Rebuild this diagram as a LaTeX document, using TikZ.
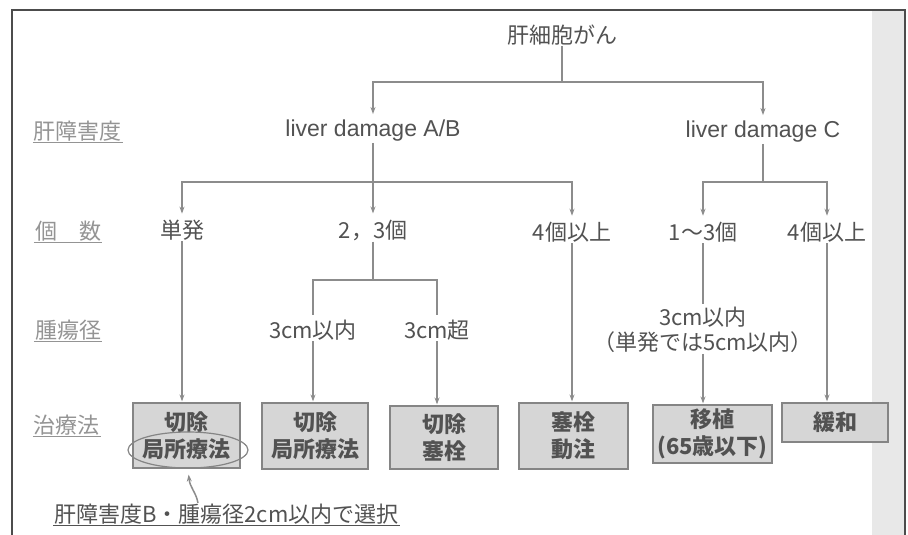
\documentclass[tikz,border=0pt]{standalone}
\usepackage{fontspec}
\setmainfont{Noto Sans CJK JP}
\newfontfamily\latinf{Liberation Sans}
\usetikzlibrary{arrows.meta,shapes.geometric}
\definecolor{lncol}{gray}{0.55}
\definecolor{txcol}{gray}{0.32}
\definecolor{lbcol}{gray}{0.58}
\definecolor{bxcol}{gray}{0.84}
\definecolor{bdcol}{gray}{0.52}
\begin{document}
\begin{tikzpicture}[x=1pt,y=-1pt,
  t/.style={font=\fontsize{22}{25}\selectfont, text=txcol, inner sep=1pt, align=center},
  en/.style={font=\latinf\fontsize{23}{27}\selectfont, text=txcol, inner sep=1pt},
  rl/.style={font=\fontsize{22}{25}\selectfont, text=lbcol, inner sep=1pt},
  bxs/.style={draw=bdcol, line width=1.2pt, fill=bxcol, font=\bfseries\fontsize{22}{27}\selectfont, text=txcol, align=center, inner sep=0pt},
  ln/.style={draw=lncol, line width=1.5pt},
  arr/.style={ln, -{Stealth[length=7pt,width=5pt]}, shorten >=5pt},
  ul/.style={draw=lbcol, line width=0.8pt},
]
\useasboundingbox (0,0) rectangle (908,535);
\fill[white] (0,0) rectangle (908,535);
\fill[black!9] (872,11) rectangle (905,535);
\draw[black!70, line width=2pt] (12,535) -- (12,10) -- (905,10) -- (905,535);

% row labels
\node[rl] (r1) at (78,131) {肝障害度};
\node[rl] (r2) at (68,231) {個\hspace{1em}数};
\node[rl] (r3) at (68,330) {腫瘍径};
\node[rl] (r4) at (67,425) {治療法};
\foreach \r in {r1,r2,r3,r4}{\draw[ul] (\r.south west) -- (\r.south east);}

% level 0/1
\node[t] (root) at (562,35) {肝細胞がん};
\node[en] (ab) at (373,131) {liver damage A/B};
\node[en] (dc) at (763,132) {liver damage C};
\coordinate (j1) at (562,82);
\draw[ln] (root.south) -- (j1);
\draw[arr] (j1) -| (ab.north);
\draw[arr] (j1) -| (dc.north);

% level 2
\node[t] (single) at (182,230) {単発};
\node[t] (n23) at (373,230) {2，3個};
\node[t] (n4a) at (572,232) {4個以上};
\node[t] (n13) at (703,232) {1～3個};
\node[t] (n4c) at (827,232) {4個以上};
\coordinate (j2) at (373,182);
\coordinate (j3) at (763,182);
\draw[ln] (ab.south) -- (j2);
\draw[arr] (j2) -| (single.north);
\draw[arr] (j2) -- (n23.north);
\draw[arr] (j2) -| (n4a.north);
\draw[ln] (dc.south) -- (j3);
\draw[arr] (j3) -| (n13.north);
\draw[arr] (j3) -| (n4c.north);

% level 3
\node[t] (s3a) at (313,330) {3cm以内};
\node[t] (s3b) at (437,330) {3cm超};
\node[t] (c3) at (703,330) {3cm以内\\（単発では5cm以内）};
\coordinate (j4) at (373,280);
\draw[ln] (n23.south) -- (j4);
\draw[ln, shorten >=4pt] (j4) -| (s3a.north);
\draw[ln, shorten >=4pt] (j4) -| (s3b.north);
\draw[ln, shorten >=2pt] (n13.south) -- (c3.north);

% treatment boxes
\node[bxs, minimum width=107, minimum height=65] (b1) at (186.5,435.5) {切除\\局所療法};
\node[bxs, minimum width=106, minimum height=66] (b2) at (315,436) {切除\\局所療法};
\node[bxs, minimum width=108, minimum height=63] (b3) at (444,437.5) {切除\\塞栓};
\node[bxs, minimum width=109, minimum height=66] (b4) at (573.5,436) {塞栓\\動注};
\node[bxs, minimum width=119, minimum height=58] (b5) at (712.5,434) {移植\\(65歳以下)};
\node[bxs, minimum width=106, minimum height=39] (b6) at (835,422.5) {緩和};
\draw[arr, shorten >=1pt] (single.south) -- (single.south |- b1.north);
\draw[arr, shorten >=1pt] (s3a.south) -- (s3a.south |- b2.north);
\draw[arr, shorten >=1pt] (s3b.south) -- (s3b.south |- b3.north);
\draw[arr, shorten >=1pt] (n4a.south) -- (n4a.south |- b4.north);
\draw[arr, shorten >=1pt] (c3.south) -- (c3.south |- b5.north);
\draw[arr, shorten >=1pt] (n4c.south) -- (n4c.south |- b6.north);

% ellipse and note
\node[ellipse, draw=bdcol, line width=1.2pt, minimum width=120, minimum height=36, inner sep=0pt] (el) at (188,450) {};
\node[t, anchor=west] (note) at (53,514) {肝障害度B・腫瘍径2cm以内で選択};
\draw[draw=txcol, line width=1pt] (note.south west) -- (note.south east);
\coordinate (na) at (198,503);
\draw[arr, shorten >=6pt] (na) .. controls (196,492) and (190,488) .. (el.south);
\end{tikzpicture}
\end{document}
